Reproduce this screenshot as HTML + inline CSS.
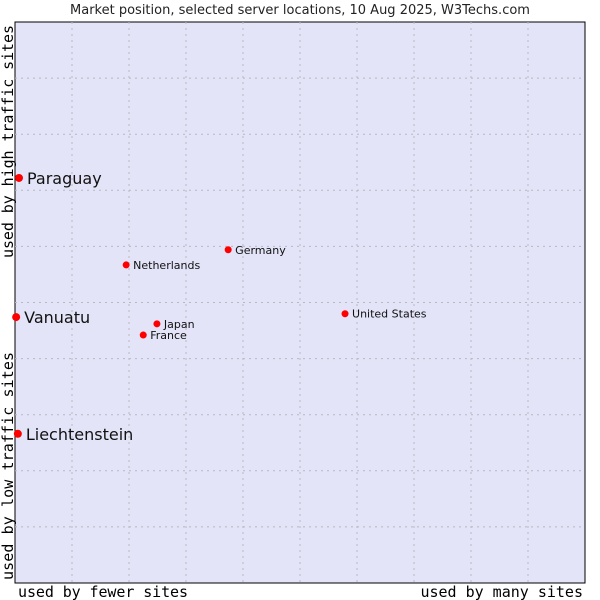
<!DOCTYPE html>
<html><head><meta charset="utf-8"><style>
body{margin:0;background:#fff;width:600px;height:600px;overflow:hidden}
svg{display:block}
</style></head><body>
<svg id="chart" width="600" height="600">
<text x="300" y="14" text-anchor="middle" font-family="DejaVu Sans, sans-serif" font-size="13" fill="#222">Market position, selected server locations, 10 Aug 2025, W3Techs.com</text>
<rect x="15" y="22" width="570" height="561" fill="#e3e4f8" stroke="#000" stroke-width="1"/>
<g id="grid"></g>
<g id="points"></g>
<text x="18" y="597" textLength="170" font-family="DejaVu Sans Mono, Liberation Mono, monospace" font-size="15" fill="#000">used by fewer sites</text>
<text x="583" y="597" text-anchor="end" font-family="DejaVu Sans Mono, Liberation Mono, monospace" font-size="15" fill="#000">used by many sites</text>
<text transform="translate(13,580) rotate(-90)" textLength="228" font-family="DejaVu Sans Mono, Liberation Mono, monospace" font-size="15" fill="#000">used by low traffic sites</text>
<text transform="translate(13,258) rotate(-90)" textLength="233" font-family="DejaVu Sans Mono, Liberation Mono, monospace" font-size="15" fill="#000">used by high traffic sites</text>
</svg>
<script>
const names=["Paraguay","Vanuatu","Liechtenstein","Germany","Netherlands","Japan","France","United States"];
const xVals=[0.07,0.02,0.05,3.74,1.95,2.49,2.25,5.79];
const yVals=[7.22,4.74,2.66,5.94,5.67,4.62,4.42,4.80];
const bigLabel=[true,true,true,false,false,false,false,false];
const ns="http://www.w3.org/2000/svg";
const L=15,T=22,W=570,H=561;
const sx=v=>L+v/10*W, sy=v=>T+H-v/10*H;
const g=document.getElementById('grid');
for(let i=1;i<10;i++){
 const v=document.createElementNS(ns,'line');
 v.setAttribute('x1',sx(i));v.setAttribute('x2',sx(i));v.setAttribute('y1',T);v.setAttribute('y2',T+H);
 v.setAttribute('stroke','#b8b8c0');v.setAttribute('stroke-dasharray','2,4');
 
 
 g.appendChild(v);
 const h=document.createElementNS(ns,'line');
 h.setAttribute('y1',sy(i));h.setAttribute('y2',sy(i));h.setAttribute('x1',L);h.setAttribute('x2',L+W);
 h.setAttribute('stroke','#b8b8c0');h.setAttribute('stroke-dasharray','2,4');
 
 
 g.appendChild(h);
}
const p=document.getElementById('points');
names.forEach((n,i)=>{
 const x=sx(xVals[i]),y=sy(yVals[i]);
 const c=document.createElementNS(ns,'circle');
 c.setAttribute('cx',x);c.setAttribute('cy',y);c.setAttribute('r',bigLabel[i]?4:3.5);c.setAttribute('fill','#f00');
 
 
 p.appendChild(c);
 const t=document.createElementNS(ns,'text');
 t.setAttribute('x',x+(bigLabel[i]?8:7));t.setAttribute('y',y+(bigLabel[i]?6:4));
 t.setAttribute('font-family','DejaVu Sans, sans-serif');t.setAttribute('font-size',bigLabel[i]?16:11);t.setAttribute('fill','#111');
 t.textContent=n;
 
 
 p.appendChild(t);
});
</script>
</body></html>
